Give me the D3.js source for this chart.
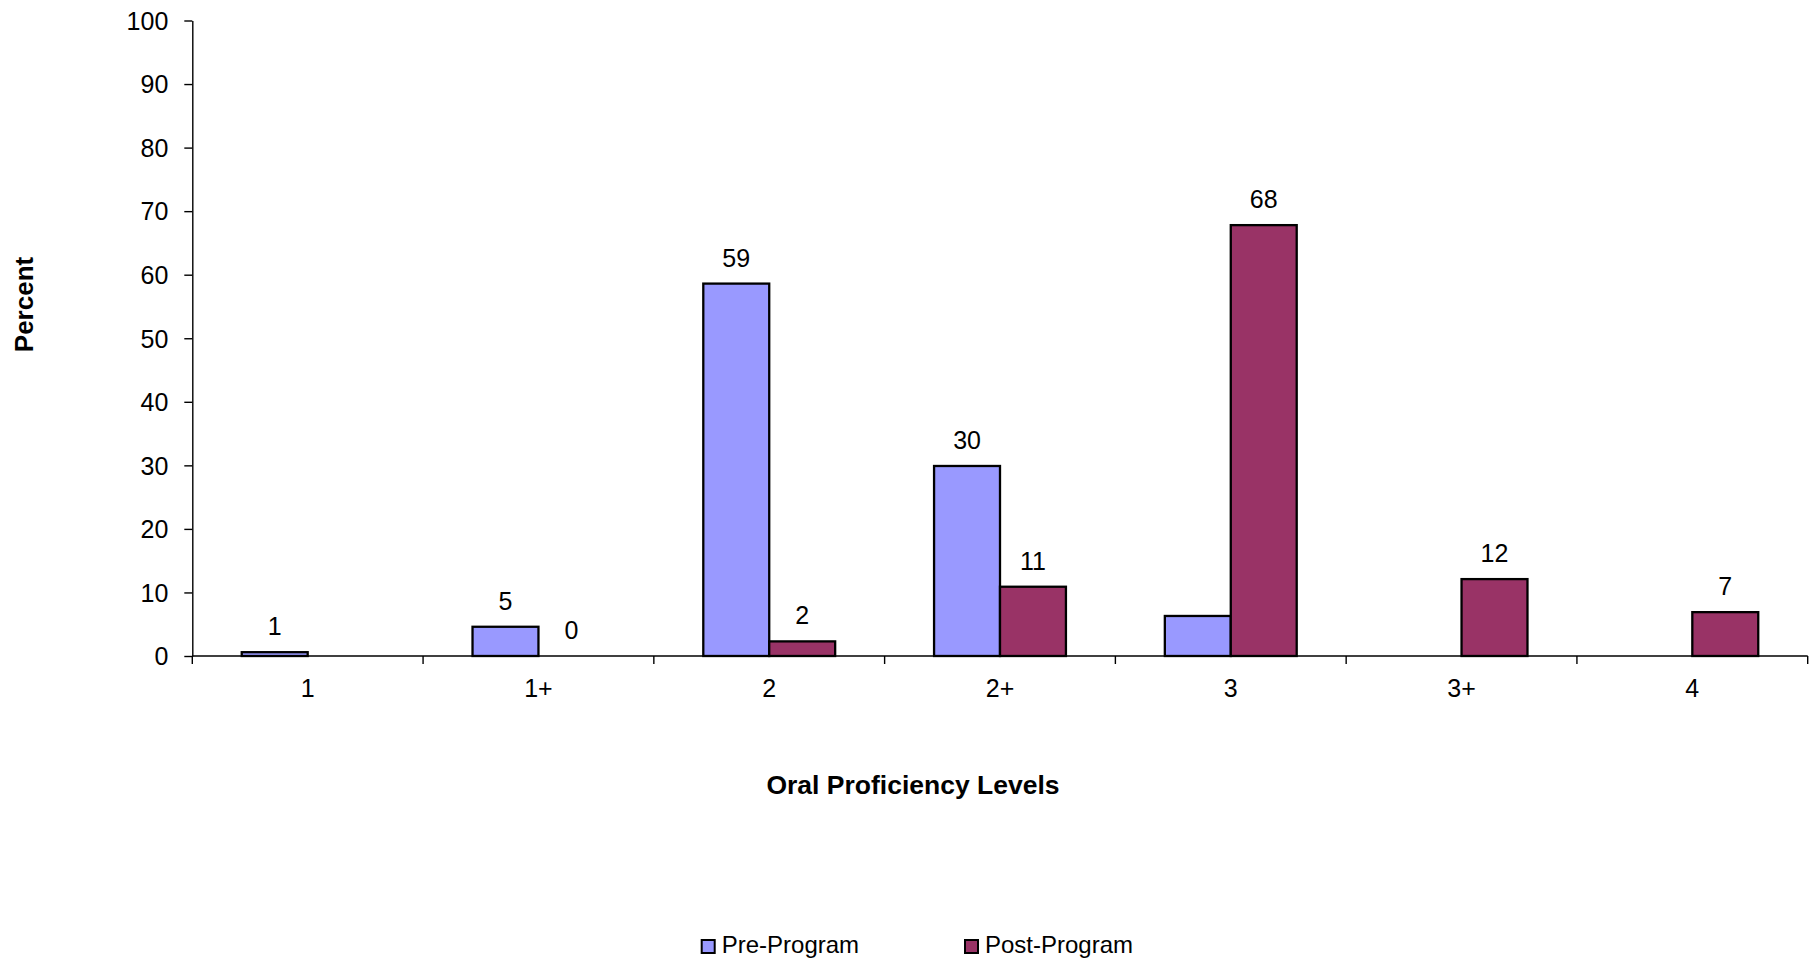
<!DOCTYPE html>
<html>
<head>
<meta charset="utf-8">
<script src="https://cdn.jsdelivr.net/npm/d3@7"></script>
<style>
  html, body { margin: 0; padding: 0; background: #fff; }
  svg { display: block; font-family: "Liberation Sans", Arial, sans-serif; }
</style>
</head>
<body>
<svg id="chart" width="1812" height="961"></svg>
<script>
// Proficiency levels on the category axis
const levels = ["1", "1+", "2", "2+", "3", "3+", "4"];
const seriesNames = ["Pre-Program", "Post-Program"];
const seriesColors = ["#9999FF", "#993366"];

// Percent of participants at each level (null = no bar)
const preProgram  = [0.6, 4.6, 58.6, 29.9, 6.3, null, null];
const postProgram = [null, 0, 2.3, 10.9, 67.8, 12.1, 6.9];

// Which values carry a data label
const preLabelled  = [true, true, true, true, false, false, false];
const postLabelled = [false, true, true, true, true, true, true];

const yTicks = [0, 10, 20, 30, 40, 50, 60, 70, 80, 90, 100];

const svg = d3.select("#chart");
const plot = { left: 192.3, right: 1807.7, top: 20.5, bottom: 656 };

const x0 = d3.scaleBand().domain(levels).range([plot.left, plot.right]).padding(0);
const x1 = d3.scaleBand().domain(seriesNames).range([0, x0.bandwidth()])
  .paddingInner(0).paddingOuter(0.75);
const y = d3.scaleLinear().domain([0, 100]).range([plot.bottom, plot.top]);

const rows = [];
levels.forEach((lvl, i) => {
  rows.push({ level: lvl, series: seriesNames[0], value: preProgram[i], labelled: preLabelled[i], color: seriesColors[0] });
  rows.push({ level: lvl, series: seriesNames[1], value: postProgram[i], labelled: postLabelled[i], color: seriesColors[1] });
});
const present = rows.filter(d => d.value !== null);

// Bars
svg.append("g").selectAll("rect")
  .data(present.filter(d => d.value > 0))
  .join("rect")
  .attr("x", d => x0(d.level) + x1(d.series))
  .attr("y", d => y(d.value))
  .attr("width", x1.bandwidth())
  .attr("height", d => y(0) - y(d.value))
  .attr("fill", d => d.color)
  .attr("stroke", "#000")
  .attr("stroke-width", 2.3);

// Y axis
const yAxis = svg.append("g")
  .attr("transform", `translate(${plot.left},0)`)
  .call(d3.axisLeft(y).tickValues(yTicks).tickSize(8).tickPadding(16).tickSizeOuter(0));
yAxis.select(".domain").attr("stroke", "#000").attr("stroke-width", 1.4);
yAxis.selectAll(".tick line").attr("stroke", "#000").attr("stroke-width", 1.4);
yAxis.selectAll(".tick text").attr("font-size", 25).attr("fill", "#000")
  .attr("font-family", "Liberation Sans, Arial, sans-serif").attr("dy", "0.35em");

// X axis: line along zero, ticks between categories, labels centred
const xAxis = svg.append("g").attr("transform", `translate(0,${plot.bottom})`);
xAxis.append("line")
  .attr("x1", plot.left).attr("x2", plot.right)
  .attr("stroke", "#000").attr("stroke-width", 1.4);
const boundaries = levels.map(l => x0(l)).concat([plot.right]);
xAxis.selectAll("line.tick").data(boundaries).join("line")
  .attr("class", "tick")
  .attr("x1", d => d).attr("x2", d => d)
  .attr("y1", 0).attr("y2", 8)
  .attr("stroke", "#000").attr("stroke-width", 1.4);
xAxis.selectAll("text").data(levels).join("text")
  .attr("x", d => x0(d) + x0.bandwidth() / 2)
  .attr("y", 41)
  .attr("text-anchor", "middle")
  .attr("font-size", 25)
  .text(d => d);

// Data labels
const fmt = d3.format(".0f");
svg.append("g").selectAll("text")
  .data(present.filter(d => d.labelled))
  .join("text")
  .attr("x", d => x0(d.level) + x1(d.series) + x1.bandwidth() / 2)
  .attr("y", d => y(d.value) - 17)
  .attr("text-anchor", "middle")
  .attr("font-size", 25)
  .text(d => fmt(d.value));

// Axis titles
svg.append("text")
  .attr("x", 913).attr("y", 794)
  .attr("text-anchor", "middle")
  .attr("font-size", 26.5).attr("font-weight", "bold")
  .text("Oral Proficiency Levels");

svg.append("text")
  .attr("transform", "translate(33,304.5) rotate(-90)")
  .attr("text-anchor", "middle")
  .attr("font-size", 26).attr("font-weight", "bold")
  .text("Percent");

// Legend
const legendPos = [701.7, 965];
const legend = svg.append("g").selectAll("g")
  .data(seriesNames)
  .join("g")
  .attr("transform", (d, i) => `translate(${legendPos[i]},940)`);
legend.append("rect")
  .attr("width", 13).attr("height", 13)
  .attr("fill", (d, i) => seriesColors[i])
  .attr("stroke", "#000").attr("stroke-width", 2);
legend.append("text")
  .attr("x", 20).attr("y", 13)
  .attr("font-size", 24)
  .text(d => d);
</script>
</body>
</html>
